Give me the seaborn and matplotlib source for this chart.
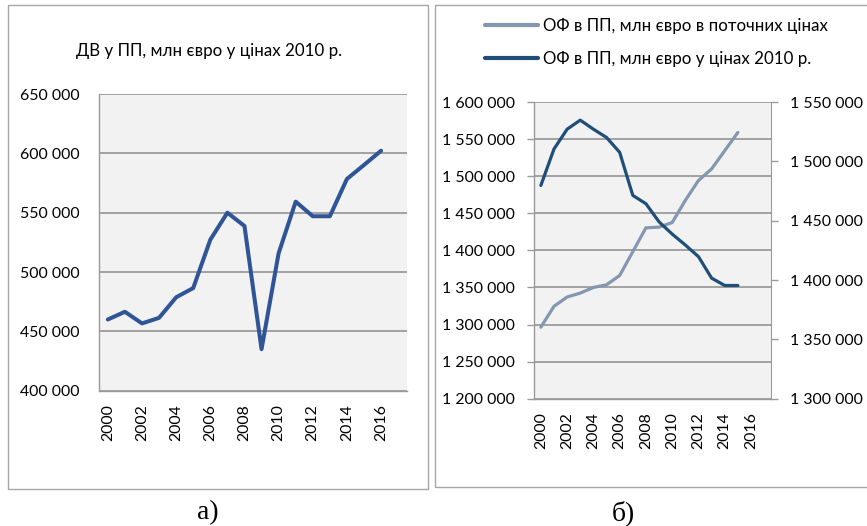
import numpy as np
import pandas as pd
import matplotlib
matplotlib.use("Agg")
import matplotlib.pyplot as plt
from matplotlib.ticker import FixedLocator, FuncFormatter
from matplotlib.lines import Line2D
from matplotlib.patches import Rectangle
import seaborn as sns

# ---- data -------------------------------------------------------------
years_a = list(range(2000, 2017))
dv_2010 = [460000, 466500, 456700, 461400, 478700, 486500, 527200, 550000,
           538800, 435000, 515800, 559300, 547000, 547000, 578400, 590200,
           602200]

years_b = list(range(2000, 2016))
of_current = [1296400, 1324600, 1337100, 1342400, 1350000, 1353600, 1366100,
              1398200, 1430400, 1431300, 1437500, 1467400, 1494200, 1509800,
              1534400, 1558900]
of_2010 = [1479700, 1510400, 1527100, 1534700, 1527100, 1520100, 1507600,
           1471300, 1464300, 1449000, 1438700, 1429500, 1419700, 1401600,
           1395400, 1395400]

year_labels = list(range(2000, 2017, 2))
title_a = "ДВ у ПП, млн євро у цінах 2010 р."
label_current = "ОФ в ПП, млн євро в поточних цінах"
label_2010 = "ОФ в ПП, млн євро у цінах 2010 р."

# ---- style ------------------------------------------------------------
sns.set_style("white")
plt.rcParams["font.family"] = ["Lato", "DejaVu Sans"]
plt.rcParams["text.color"] = "black"
plt.rcParams["xtick.labelcolor"] = "black"
plt.rcParams["ytick.labelcolor"] = "black"
FS = 12.2      # titles and legend
TFS = 11.4     # tick labels
GRID = "#8c8c8c"
SPINE = "#9a9a9a"
BG = "#f2f2f2"
BLUE = "#2f5597"
DARK = "#1f4e79"
LIGHT = "#8497b0"

fig = plt.figure(figsize=(8.67, 5.26), dpi=100)

# panel frames
fig.patches.append(Rectangle((8 / 867, (526 - 489) / 526), 420 / 867, 484 / 526,
                             transform=fig.transFigure, fill=False,
                             edgecolor="#a6a6a6", linewidth=1.0))
fig.patches.append(Rectangle((435 / 867, (526 - 487) / 526), 440 / 867, 482 / 526,
                             transform=fig.transFigure, fill=False,
                             edgecolor="#a6a6a6", linewidth=1.0))

thousands = FuncFormatter(lambda v, _: f"{v:,.0f}".replace(",", " "))


def style_axes(ax, ymin, ymax, step):
    ax.set_facecolor(BG)
    ax.set_xlim(1999.5, 2017.5)
    ax.set_ylim(ymin, ymax)
    ax.xaxis.set_major_locator(FixedLocator(year_labels))
    ax.xaxis.set_minor_locator(FixedLocator(np.arange(1999.5, 2018, 1.0)))
    ax.set_xticklabels([str(y) for y in year_labels], rotation=90, fontsize=TFS)
    ax.yaxis.set_major_locator(FixedLocator(np.arange(ymin, ymax + 1, step)))
    ax.yaxis.set_major_formatter(thousands)
    ax.tick_params(axis="x", which="major", length=0, pad=10)
    ax.tick_params(axis="x", which="minor", length=5, width=1, color=SPINE,
                   direction="out")
    ax.tick_params(axis="y", which="major", length=5, width=1, color=SPINE,
                   direction="out", pad=9, labelsize=TFS)
    ax.grid(axis="y", color=GRID, linewidth=1.1)
    ax.grid(axis="x", visible=False)
    for side in ("top", "right"):
        ax.spines[side].set_visible(False)
    for side in ("left", "bottom"):
        ax.spines[side].set_color(SPINE)
        ax.spines[side].set_linewidth(1.0)
    ax.set_xlabel("")
    ax.set_ylabel("")


# ---- panel a ----------------------------------------------------------
ax1 = fig.add_axes([99.3 / 867, (526 - 390.7) / 526, 307.4 / 867, 296.7 / 526])
df_a = pd.DataFrame({"year": years_a, "value": dv_2010})
sns.lineplot(data=df_a, x="year", y="value", ax=ax1, color=BLUE, linewidth=2.9)
style_axes(ax1, 400000, 650000, 50000)
fig.text(209.5 / 867, 1 - 51 / 526, title_a, ha="center", va="center",
         fontsize=FS)

# ---- panel b ----------------------------------------------------------
ax2 = fig.add_axes([534.3 / 867, (526 - 398.7) / 526, 236.4 / 867, 296.7 / 526])
df_b = pd.DataFrame({"year": years_b, "current": of_current, "const": of_2010})
sns.lineplot(data=df_b, x="year", y="current", ax=ax2, color=LIGHT,
             linewidth=2.3)
style_axes(ax2, 1200000, 1600000, 50000)

ax3 = ax2.twinx()
sns.lineplot(data=df_b, x="year", y="const", ax=ax3, color=DARK,
             linewidth=2.3)
ax3.set_ylim(1300000, 1550000)
ax3.yaxis.set_major_locator(FixedLocator(np.arange(1300000, 1550001, 50000)))
ax3.yaxis.set_major_formatter(thousands)
ax3.tick_params(axis="y", length=5, width=1, color=SPINE, direction="out",
                pad=9, labelsize=TFS)
ax3.grid(False)
for side in ("top", "left", "bottom"):
    ax3.spines[side].set_visible(False)
ax3.spines["right"].set_color(SPINE)
ax3.set_ylabel("")

handles = [Line2D([], [], color=LIGHT, linewidth=3.0),
           Line2D([], [], color=DARK, linewidth=3.0)]
fig.legend(handles, [label_current, label_2010], loc="upper left",
           bbox_to_anchor=(485 / 867, 1 - 18 / 526), frameon=False,
           fontsize=FS, handlelength=3.1, handletextpad=0.3,
           labelspacing=1.0, borderaxespad=0, borderpad=0)

# ---- panel captions ---------------------------------------------------
fig.text(208 / 867, 1 - 513 / 526, "а)", ha="center", va="center",
         fontsize=20, family="Liberation Serif")
fig.text(623 / 867, 1 - 513 / 526, "б)", ha="center", va="center",
         fontsize=20, family="Liberation Serif")

fig.savefig("out.png", dpi=100)
